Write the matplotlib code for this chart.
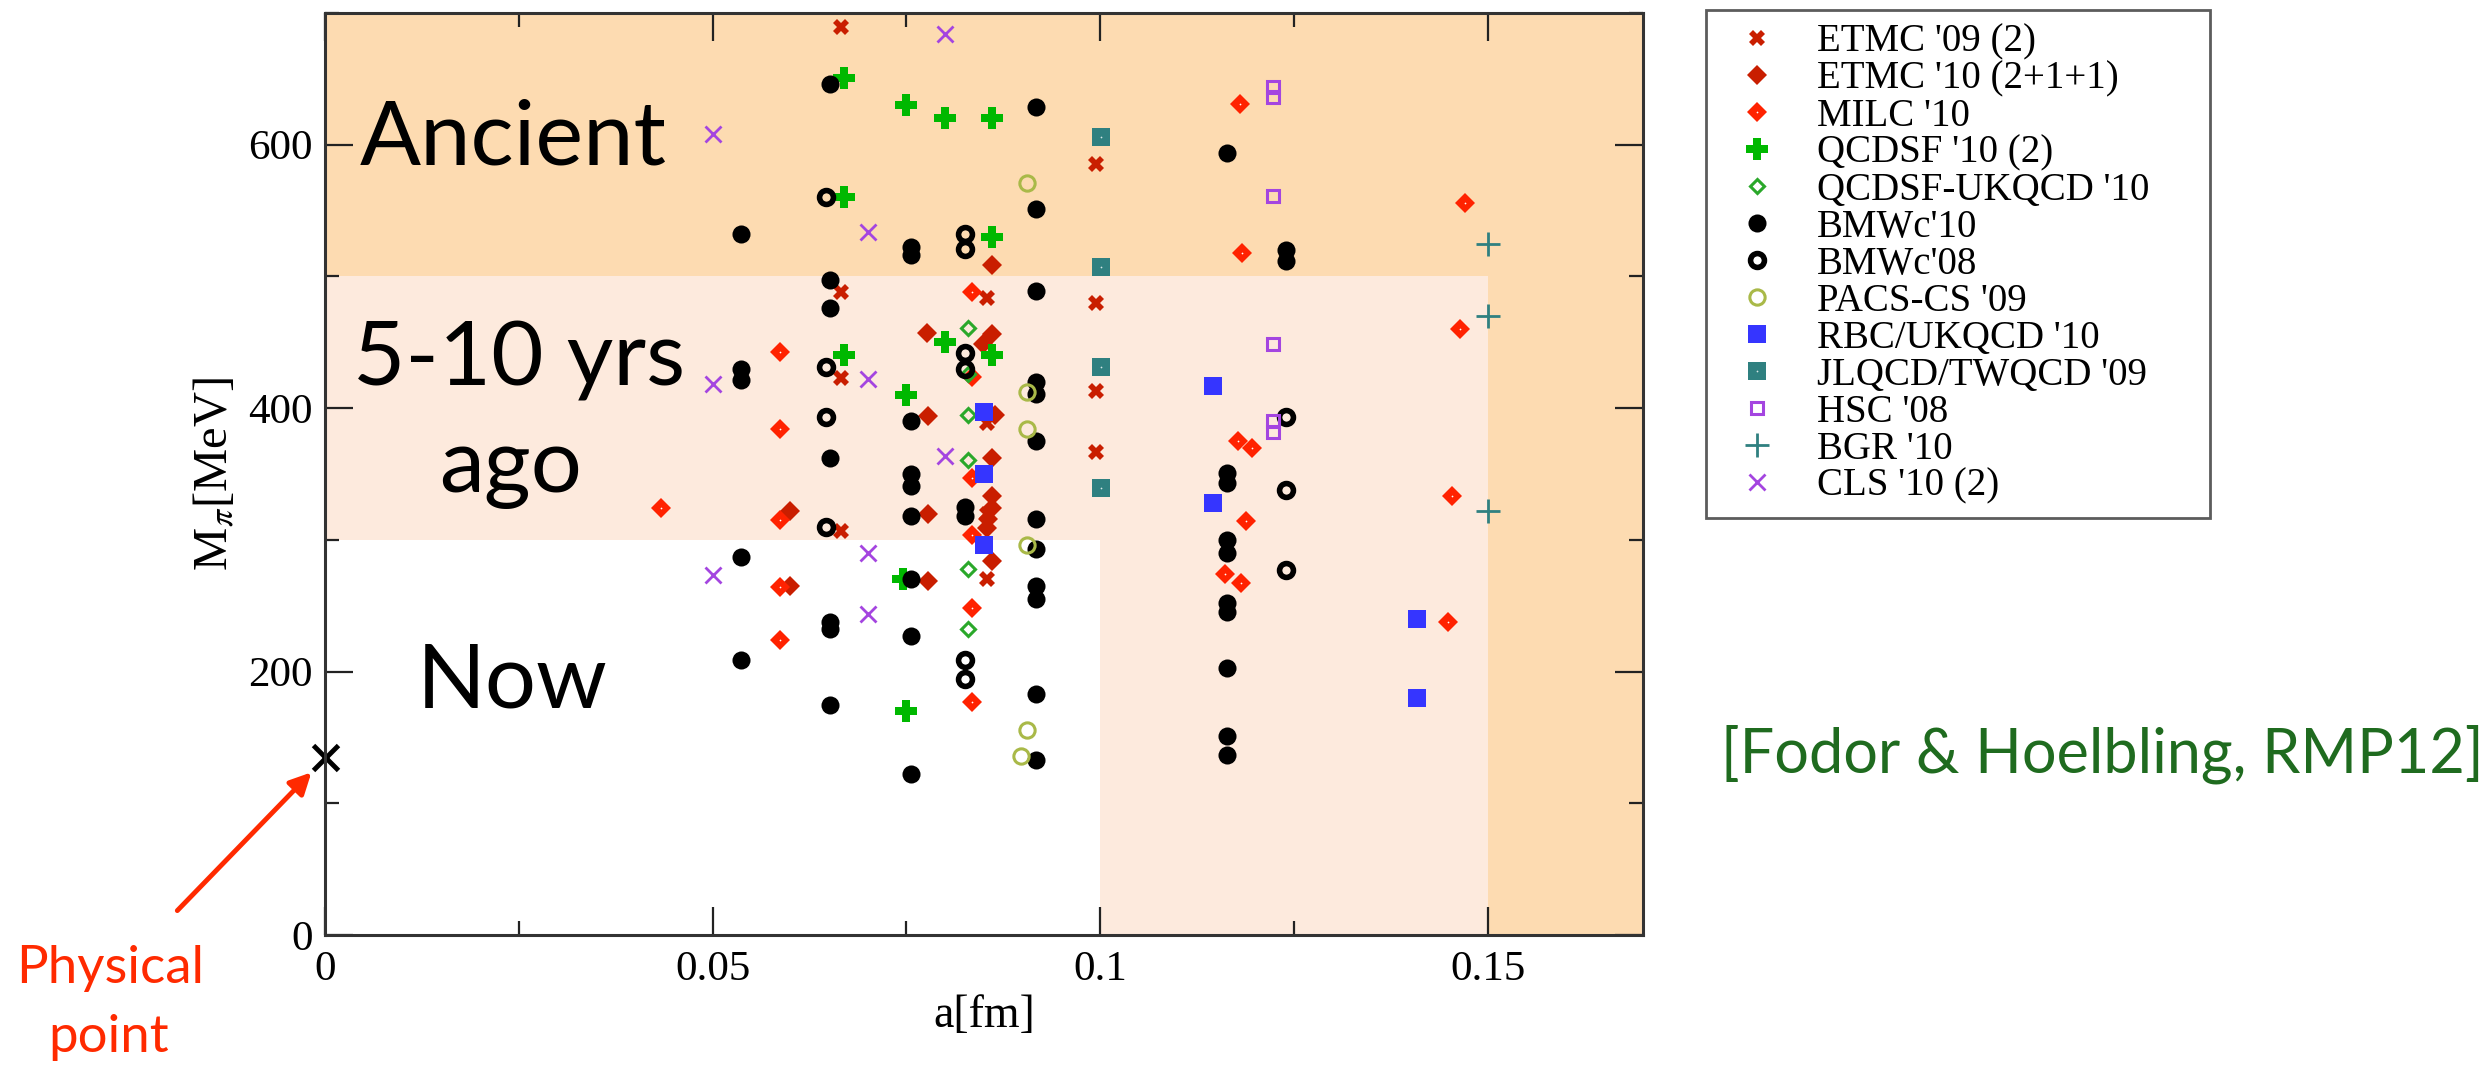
import numpy as np
import matplotlib
matplotlib.use("Agg")
import matplotlib.pyplot as plt
from matplotlib.patches import Rectangle

plt.rcParams['font.family'] = ['Liberation Serif', 'DejaVu Serif']
plt.rcParams['mathtext.fontset'] = 'stix'

# lattice ensembles: lattice spacing a [fm] and pion mass [MeV]
etmc09_a = [0.0665, 0.0994, 0.0666, 0.0854, 0.0994, 0.0665, 0.0994, 0.0854, 0.0994, 0.0854, 0.0666, 0.0854]
etmc09_m = [689, 585, 488, 484, 480, 423, 413, 389, 367, 320, 307, 270]

etmc10_a = [0.086, 0.0776, 0.086, 0.0849, 0.0778, 0.0864, 0.086, 0.086, 0.086, 0.0855, 0.0854, 0.0778, 0.060, 0.086, 0.0778, 0.060]
etmc10_m = [509, 457, 456, 449, 394, 395, 362, 333, 324, 316, 309, 320, 322, 284, 269, 265]

milc_a = [0.1180, 0.1183, 0.0835, 0.0587, 0.0835, 0.0587, 0.1178, 0.1196, 0.0834, 0.0433, 0.0587,
          0.0834, 0.1188, 0.1161, 0.1182, 0.0587, 0.0835, 0.0587, 0.0835, 0.147, 0.1464, 0.1454, 0.1448]
milc_m = [631, 518, 488, 443, 424, 384, 375, 370, 347, 324, 315,
          304, 314, 274, 267, 264, 248, 224, 177, 556, 460, 333, 238]

qcdsf_a = [0.067, 0.0749, 0.080, 0.086, 0.067, 0.086, 0.080, 0.067, 0.086, 0.0749, 0.0746, 0.0749]
qcdsf_m = [651, 630, 620, 620, 560, 530, 450, 440, 440, 410, 270, 170]

ukqcd_a = [0.0829, 0.0829, 0.0829, 0.0829, 0.0829, 0.0829]
ukqcd_m = [461, 426, 395, 361, 278, 232]

bmw10_a = [0.0537, 0.0537, 0.0537, 0.0537, 0.0537,
           0.0651, 0.0651, 0.0651, 0.0651, 0.0651, 0.0651, 0.0651,
           0.0756, 0.0756, 0.0756, 0.0756, 0.0756, 0.0756, 0.0756, 0.0756, 0.0756,
           0.0825, 0.0825,
           0.0917, 0.0917, 0.0917, 0.0917, 0.0917, 0.0917, 0.0917, 0.0917, 0.0917, 0.0917, 0.0917, 0.0917,
           0.1163, 0.1163, 0.1163, 0.1163, 0.1163, 0.1163, 0.1163, 0.1163, 0.1163, 0.1163,
           0.124, 0.124]
bmw10_m = [532, 430, 421, 287, 209,
           646, 497, 476, 362, 238, 232, 175,
           522, 516, 390, 350, 341, 318, 270, 227, 122,
           325, 318,
           629, 551, 489, 420, 411, 375, 316, 293, 265, 255, 183, 133,
           594, 351, 343, 300, 290, 252, 245, 203, 151, 137,
           520, 512]

bmw08_a = [0.0646, 0.0646, 0.0646, 0.0646, 0.0825, 0.0825, 0.0825, 0.0825, 0.0825, 0.0825, 0.124, 0.124, 0.124]
bmw08_m = [560, 431, 393, 310, 532, 521, 442, 430, 209, 194, 393, 338, 277]

pacs_a = [0.0906, 0.0906, 0.0906, 0.0905, 0.0906, 0.0898]
pacs_m = [571, 412, 384, 296, 156, 136]

rbc_a = [0.085, 0.085, 0.085, 0.1146, 0.1146, 0.1409, 0.1409]
rbc_m = [397, 350, 296, 417, 328, 240, 180]

jlqcd_a = [0.1001, 0.1001, 0.1001, 0.1001]
jlqcd_m = [606, 507, 431, 339]

hsc_a = [0.1223, 0.1223, 0.1223, 0.1223, 0.1223, 0.1223]
hsc_m = [644, 636, 561, 449, 390, 382]

bgr_a = [0.150, 0.150, 0.150]
bgr_m = [525, 470, 322]

cls_a = [0.050, 0.080, 0.070, 0.050, 0.070, 0.080, 0.070, 0.050, 0.070]
cls_m = [608, 684, 534, 418, 422, 364, 290, 273, 244]

phys_a = [0.0]
phys_m = [135]

# era boundaries
now_a, now_m = 0.10, 300
mid_a, mid_m = 0.15, 500
x_max, y_max = 0.17, 700

fig = plt.figure(figsize=(24.9, 10.72), dpi=100)
ax = fig.add_axes([325 / 2490, 1 - 935 / 1072, (1643 - 325) / 2490, (935 - 13) / 1072])

ax.add_patch(Rectangle((0, 0), x_max, y_max, color='#fddbb1', zorder=0, lw=0))
ax.add_patch(Rectangle((0, 0), mid_a, mid_m, color='#fdeadd', zorder=0.1, lw=0))
ax.add_patch(Rectangle((0, 0), now_a, now_m, color='white', zorder=0.2, lw=0))

dark_red = '#c91e00'
red = '#ff2200'
green = '#00b800'
teal = '#2f8080'
purple = '#a445e0'

h = []
h.append(ax.plot(etmc09_a, etmc09_m, 'X', color=dark_red, ms=11, mew=0, ls='none')[0])
h.append(ax.plot(etmc10_a, etmc10_m, 'D', color=dark_red, ms=10, mew=0, ls='none')[0])
m1 = ax.plot(milc_a, milc_m, 'D', color=red, ms=10, mew=0, ls='none')[0]
m2 = ax.plot(milc_a, milc_m, '.', color='white', ms=2.5, mew=0, ls='none')[0]
h.append((m1, m2))
h.append(ax.plot(qcdsf_a, qcdsf_m, 'P', color=green, ms=16, mew=0, ls='none')[0])
h.append(ax.plot(ukqcd_a, ukqcd_m, 'D', mfc='none', mec='#2aa82a', ms=7, mew=2.2, ls='none')[0])
h.append(ax.plot(bmw10_a, bmw10_m, 'o', color='black', ms=13, mew=0, ls='none')[0])
h.append(ax.plot(bmw08_a, bmw08_m, 'o', mfc='none', mec='black', ms=10, mew=4, ls='none')[0])
h.append(ax.plot(pacs_a, pacs_m, 'o', mfc='none', mec='#a9b948', ms=11, mew=2.2, ls='none')[0])
h.append(ax.plot(rbc_a, rbc_m, 's', color='#3535ff', ms=13.5, mew=0, ls='none')[0])
j1 = ax.plot(jlqcd_a, jlqcd_m, 's', color=teal, ms=13.5, mew=0, ls='none')[0]
j2 = ax.plot(jlqcd_a, jlqcd_m, '.', color='#d9e6e6', ms=2.5, mew=0, ls='none')[0]
h.append((j1, j2))
h.append(ax.plot(hsc_a, hsc_m, 's', mfc='none', mec=purple, ms=8, mew=2.2, ls='none')[0])
h.append(ax.plot(bgr_a, bgr_m, '+', color=teal, ms=17, mew=2, ls='none')[0])
h.append(ax.plot(cls_a, cls_m, 'x', color=purple, ms=11, mew=2, ls='none')[0])

ax.plot(phys_a, phys_m, 'x', color='black', ms=18, mew=3.5, ls='none', clip_on=False, zorder=5)

labels = ["ETMC '09 (2)", "ETMC '10 (2+1+1)", "MILC '10", "QCDSF '10 (2)", "QCDSF-UKQCD '10",
          "BMWc'10", "BMWc'08", "PACS-CS '09", "RBC/UKQCD '10", "JLQCD/TWQCD '09",
          "HSC '08", "BGR '10", "CLS '10 (2)"]

ax.set_xlim(0, x_max)
ax.set_ylim(0, y_max)
ax.set_xticks([0, 0.05, 0.1, 0.15])
ax.set_xticklabels(['0', '0.05', '0.1', '0.15'])
ax.set_xticks(np.arange(0.025, x_max, 0.05), minor=True)
ax.set_yticks([0, 200, 400, 600])
ax.set_yticks([100, 300, 500, 700], minor=True)
ax.tick_params(which='both', direction='in', top=True, right=True, width=1.6, color='#222222',
               labelsize=31)
ax.tick_params(which='major', length=20)
ax.tick_params(which='minor', length=10)
ax.tick_params(axis='x', pad=11)
ax.tick_params(axis='y', pad=9)
for s in ax.spines.values():
    s.set_linewidth(2.2)
    s.set_color('#333333')
    s.set_zorder(6)

ax.set_xlabel('a[fm]', fontsize=33, labelpad=4)
ax.set_ylabel(r'M$_{\pi}$[MeV]', fontsize=35, labelpad=8)

# era labels
era_font = dict(family=['Lato', 'DejaVu Sans'], fontsize=65, color='black')
ax.text(0.0045, 585, 'Ancient', ha='left', va='baseline', **era_font)
ax.text(0.0036, 417, '5-10 yrs', ha='left', va='baseline', **era_font)
ax.text(0.0239, 336, 'ago', ha='center', va='baseline', **era_font)
ax.text(0.0118, 173, 'Now', ha='left', va='baseline', **era_font)

# physical point annotation
ax.annotate('', xy=(-0.0015, 125), xytext=(-0.0193, 17), xycoords='data', annotation_clip=False,
            arrowprops=dict(arrowstyle='-|>', color='#ff2a00', lw=3.5, mutation_scale=32))
fig.text(110 / 2490, 1 - 983 / 1072, 'Physical', ha='center', va='baseline',
         family=['Lato', 'DejaVu Sans'], fontsize=38, color='#ff2a00')
fig.text(109 / 2490, 1 - 1052 / 1072, 'point', ha='center', va='baseline',
         family=['Lato', 'DejaVu Sans'], fontsize=38, color='#ff2a00')

fig.text(2102 / 2490, 1 - 772 / 1072, '[Fodor & Hoelbling, RMP12]', ha='center', va='baseline',
         family=['Lato', 'DejaVu Sans'], fontsize=44, color='#1f6b1f')

leg = fig.legend(h, labels, loc='upper left', mode='expand',
                 bbox_to_anchor=(1706 / 2490, 0.0, 504 / 2490, 1 - 10 / 1072),
                 bbox_transform=fig.transFigure, fontsize=28, frameon=True, fancybox=False,
                 edgecolor='#333333', borderpad=0.35, labelspacing=0.0, handlelength=1.9,
                 handletextpad=0.6, borderaxespad=0)
leg.get_frame().set_linewidth(2)

fig.savefig('out.png', dpi=100)
